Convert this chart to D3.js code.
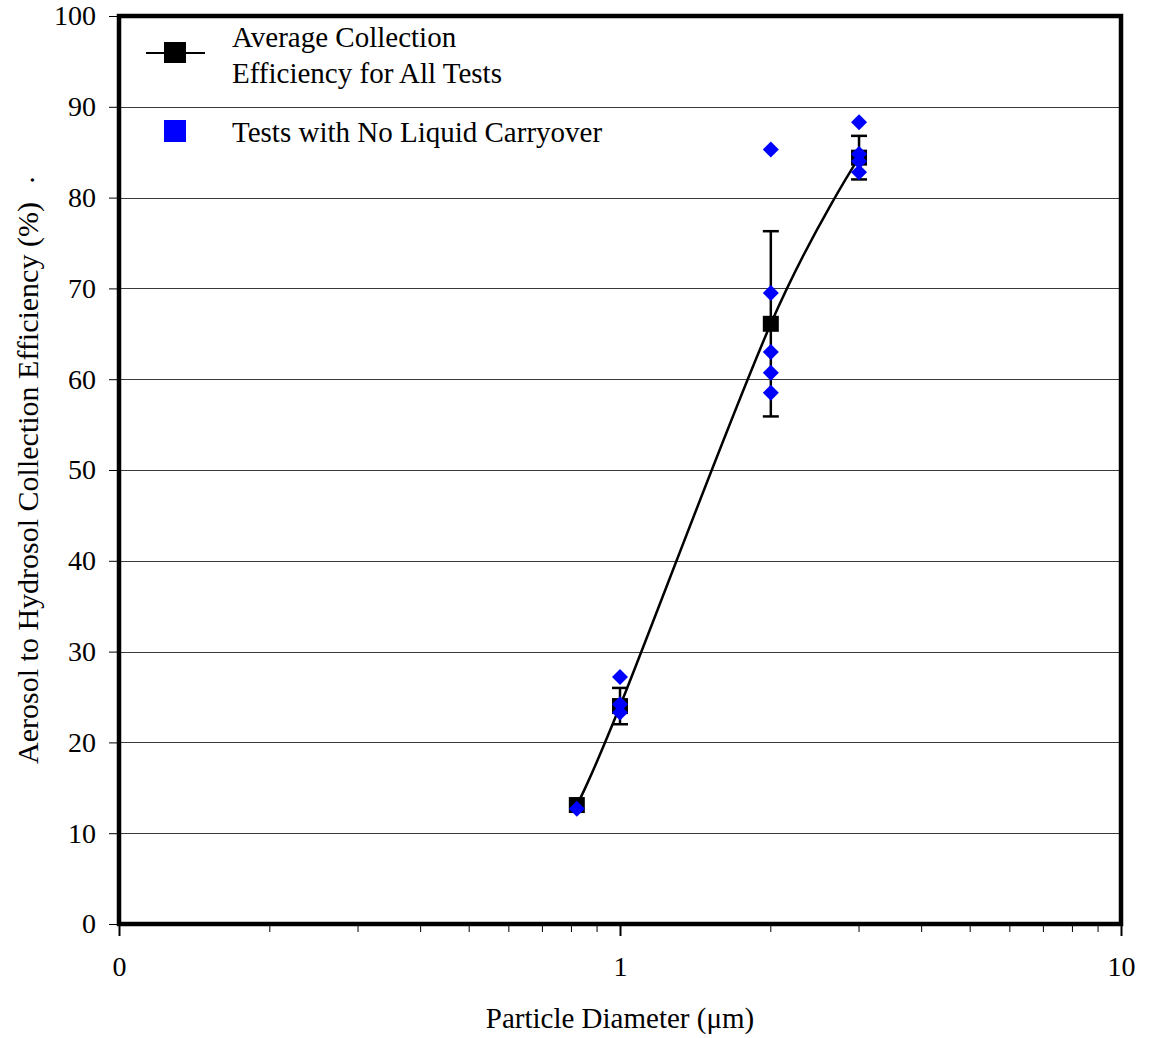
<!DOCTYPE html>
<html>
<head>
<meta charset="utf-8">
<script src="https://cdn.jsdelivr.net/npm/d3@7"></script>
<style>
  html, body { margin: 0; padding: 0; background: #fff; }
  svg { display: block; }
  text { font-family: "Liberation Serif", "Times New Roman", serif; fill: #000; }
</style>
</head>
<body>
<svg id="chart" width="1149" height="1038"></svg>
<script>
// Particle diameters (µm) for the averaged collection efficiency
const avgDiameter = [0.82, 1.0, 2.0, 3.0];
// Average collection efficiency for all tests (%)
const avgEfficiency = [13.1, 24.0, 66.1, 84.4];
// Error bar half-widths (%)
const avgError = [0, 2.0, 10.2, 2.4];

// Individual tests with no liquid carryover
const testDiameter = [0.82, 1.0, 1.0, 1.0, 2.0, 2.0, 2.0, 2.0, 2.0, 3.0, 3.0, 3.0, 3.0];
const testEfficiency = [12.7, 27.2, 24.2, 23.3, 85.3, 69.5, 63.0, 60.7, 58.5, 88.3, 84.8, 84.0, 82.8];

// Axis ticks
const xTickValues = [0.1, 1, 10];
const xTickLabels = ["0", "1", "10"];
const xMinorTicks = [0.2, 0.3, 0.4, 0.5, 0.6, 0.7, 0.8, 0.9, 2, 3, 4, 5, 6, 7, 8, 9];
const yTickValues = [0, 10, 20, 30, 40, 50, 60, 70, 80, 90, 100];

const legendLabels = [["Average Collection", "Efficiency for All Tests"], ["Tests with No Liquid Carryover"]];

const svg = d3.select("#chart");
const plotLeft = 119, plotRight = 1121, plotTop = 16, plotBottom = 924;

const x = d3.scaleLog().domain([0.1, 10]).range([plotLeft, plotRight]);
const y = d3.scaleLinear().domain([0, 100]).range([plotBottom, plotTop]);

// Horizontal gridlines
svg.append("g")
  .selectAll("line")
  .data(yTickValues.filter(v => v > 0 && v < 100))
  .join("line")
  .attr("x1", plotLeft).attr("x2", plotRight)
  .attr("y1", d => Math.round(y(d)) + 0.5).attr("y2", d => Math.round(y(d)) + 0.5)
  .attr("stroke", "#3a3a3a").attr("stroke-width", 1);

// Y axis ticks and labels
const yAxis = d3.axisLeft(y).tickValues(yTickValues).tickSize(10).tickPadding(10).tickFormat(d3.format("d"));
svg.append("g")
  .attr("transform", `translate(${plotLeft},0)`)
  .call(yAxis)
  .call(g => g.select(".domain").remove())
  .call(g => g.selectAll("line").attr("stroke", "#000").attr("stroke-width", 1))
  .call(g => g.selectAll("text").style("font-size", "28px").attr("dx", "-3"));

// X axis: major ticks with labels
const xAxis = d3.axisBottom(x).tickValues(xTickValues).tickSize(12).tickPadding(20)
  .tickFormat((d, i) => xTickLabels[i]);
svg.append("g")
  .attr("transform", `translate(0,${plotBottom})`)
  .call(xAxis)
  .call(g => g.select(".domain").remove())
  .call(g => g.selectAll("line").attr("stroke", "#000").attr("stroke-width", 2))
  .call(g => g.selectAll("text").style("font-size", "28px"));

// X axis: minor ticks
svg.append("g")
  .selectAll("line")
  .data(xMinorTicks)
  .join("line")
  .attr("x1", d => x(d)).attr("x2", d => x(d))
  .attr("y1", plotBottom).attr("y2", plotBottom + 8)
  .attr("stroke", "#000").attr("stroke-width", 1);

// Plot frame
svg.append("rect")
  .attr("x", plotLeft).attr("y", plotTop)
  .attr("width", plotRight - plotLeft).attr("height", plotBottom - plotTop)
  .attr("fill", "none").attr("stroke", "#000").attr("stroke-width", 4.5);

// Axis titles
svg.append("text")
  .attr("x", (plotLeft + plotRight) / 2).attr("y", 1028)
  .attr("text-anchor", "middle").style("font-size", "29px")
  .text("Particle Diameter (μm)");

svg.append("text")
  .attr("transform", "translate(38,483) rotate(-90)")
  .attr("text-anchor", "middle").style("font-size", "30px")
  .text("Aerosol to Hydrosol Collection Efficiency (%)");

svg.append("text")
  .attr("transform", "translate(34,180) rotate(-90)")
  .attr("text-anchor", "middle").style("font-size", "28px")
  .text(".");

// Smoothed line through the averages
const avgPoints = avgDiameter.map((d, i) => [x(d), y(avgEfficiency[i])]);
svg.append("path")
  .attr("d", d3.line().curve(d3.curveCardinal.tension(0))(avgPoints))
  .attr("fill", "none").attr("stroke", "#000").attr("stroke-width", 2.5);

// Error bars
const eb = svg.append("g").attr("stroke", "#000").attr("stroke-width", 2.5);
avgDiameter.forEach((d, i) => {
  if (!avgError[i]) return;
  const cx = x(d);
  const y1 = y(avgEfficiency[i] + avgError[i]);
  const y2 = y(avgEfficiency[i] - avgError[i]);
  eb.append("line").attr("x1", cx).attr("x2", cx).attr("y1", y1).attr("y2", y2);
  eb.append("line").attr("x1", cx - 8).attr("x2", cx + 8).attr("y1", y1).attr("y2", y1);
  eb.append("line").attr("x1", cx - 8).attr("x2", cx + 8).attr("y1", y2).attr("y2", y2);
});

// Average markers (black squares)
svg.append("g")
  .selectAll("rect")
  .data(avgDiameter)
  .join("rect")
  .attr("x", d => x(d) - 8)
  .attr("y", (d, i) => y(avgEfficiency[i]) - 8)
  .attr("width", 16).attr("height", 16)
  .attr("fill", "#000");

// Individual tests (blue diamonds)
const diamond = d3.symbol().type(d3.symbolSquare).size(128);
svg.append("g")
  .selectAll("path")
  .data(testDiameter)
  .join("path")
  .attr("d", diamond)
  .attr("transform", (d, i) => `translate(${x(d)},${y(testEfficiency[i])}) rotate(45)`)
  .attr("fill", "#0000ff");

// Legend
const lg = svg.append("g");
lg.append("line").attr("x1", 146).attr("x2", 205).attr("y1", 53).attr("y2", 53)
  .attr("stroke", "#000").attr("stroke-width", 2);
lg.append("rect").attr("x", 164).attr("y", 42).attr("width", 22).attr("height", 21).attr("fill", "#000");
lg.append("rect").attr("x", 164).attr("y", 120).attr("width", 22).attr("height", 22).attr("fill", "#0000ff");
lg.append("text").attr("x", 232).attr("y", 47).style("font-size", "29px").text(legendLabels[0][0]);
lg.append("text").attr("x", 232).attr("y", 83).style("font-size", "29px").text(legendLabels[0][1]);
lg.append("text").attr("x", 232).attr("y", 142).style("font-size", "29px").text(legendLabels[1][0]);
</script>
</body>
</html>
